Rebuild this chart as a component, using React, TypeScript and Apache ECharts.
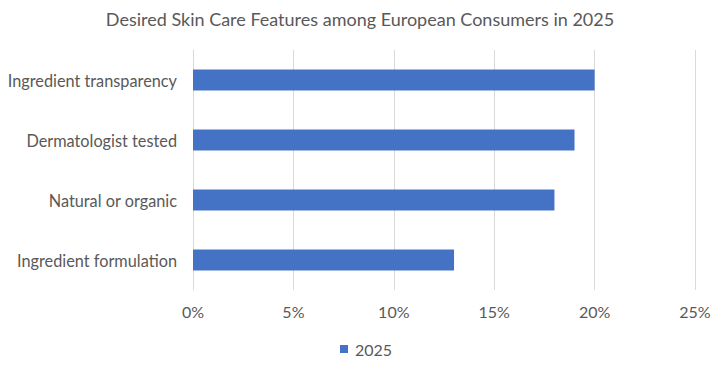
import React, { useEffect, useRef } from "react";
import * as echarts from "echarts";

const categories = ["Ingredient transparency", "Dermatologist tested", "Natural or organic", "Ingredient formulation"];
const values2025 = [20, 19, 18, 13];
const seriesName = "2025";
const titleText = "Desired Skin Care Features among European Consumers in 2025";

export default function App() {
  const ref = useRef<HTMLDivElement>(null);
  useEffect(() => {
    const chart = echarts.init(ref.current!, null, { renderer: "svg" });
    const font = "Lato, 'Open Sans', sans-serif";
    chart.setOption({
      animation: false,
      title: {
        text: titleText,
        left: "center",
        top: 5,
        textStyle: { fontFamily: font, fontSize: 18, fontWeight: "normal", color: "#595959" },
      },
      grid: { left: 193, right: 25, top: 50, bottom: 77 },
      legend: {
        data: [seriesName],
        bottom: 5,
        left: 335,
        icon: "rect",
        itemWidth: 8,
        itemHeight: 8,
        itemGap: 4,
        textStyle: { fontFamily: font, fontSize: 16, color: "#595959", padding: [0, 0, 0, 2] },
      },
      xAxis: {
        type: "value",
        min: 0,
        max: 25,
        interval: 5,
        axisLabel: {
          formatter: "{value}%",
          fontFamily: font,
          fontSize: 16,
          color: "#595959",
          margin: 13,
        },
        axisLine: { show: false },
        axisTick: { show: false },
        splitLine: { show: true, lineStyle: { color: "#d9d9d9", width: 1 } },
      },
      yAxis: {
        type: "category",
        data: categories,
        inverse: true,
        axisLine: { show: true, lineStyle: { color: "#d9d9d9", width: 1 } },
        axisTick: { show: false },
        axisLabel: { fontFamily: font, fontSize: 16.3, color: "#595959", margin: 16 },
      },
      series: [
        {
          name: seriesName,
          type: "bar",
          data: values2025,
          barWidth: "35%",
          itemStyle: { color: "#4472c4" },
        },
      ],
    });
    return () => chart.dispose();
  }, []);
  return <div ref={ref} style={{ width: 720, height: 367, margin: -8 }} />;
}
